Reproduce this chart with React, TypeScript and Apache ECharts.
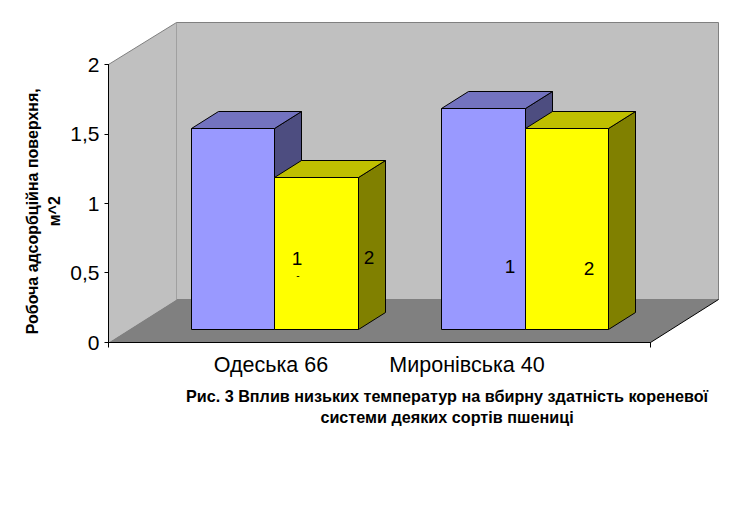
import React, { useEffect, useRef } from "react";
import * as echarts from "echarts";

const categories = ["Одеська 66", "Миронівська 40"];
const series1Values = [1.445, 1.59];
const series2Values = [1.09, 1.445];
const yTicks = { min: 0, max: 2, interval: 0.5 };
const yAxisName = "Робоча адсорбційна поверхня,\nм^2";
const caption = "Рис. 3 Вплив низьких температур на вбирну здатність кореневої\nсистеми деяких сортів пшениці";
const FONT = '"Liberation Sans", Arial, sans-serif';

// 3D projection constants
const WALL_DX = 68;
const WALL_DY = -42;
const FLOOR_DY = -43;
const BAR_DX = 27;
const BAR_DY = -17;
const BAR_LIFT = -13;
const BAR_FRACTION = 0.3333;

const crisp = (v: number) => Math.round(v - 0.5) + 0.5;

function renderFrame(params: any) {
  const c = params.coordSys;
  const l = crisp(c.x), r = crisp(c.x + c.width), t = crisp(c.y), b = crisp(c.y + c.height);
  const dx = WALL_DX, dy = WALL_DY, fy = FLOOR_DY;
  const wall = { fill: "#C0C0C0", stroke: "#808080", lineWidth: 1 };
  const poly = (points: number[][], style: any) => ({ type: "polygon", shape: { points }, style });
  const line = (x1: number, y1: number, x2: number, y2: number, stroke: string) => ({
    type: "line",
    shape: { x1, y1, x2, y2 },
    style: { stroke, lineWidth: 1 },
  });
  return {
    type: "group",
    children: [
      poly([[l + dx, t + dy], [r + dx, t + dy], [r + dx, b + fy], [l + dx, b + fy]], wall),
      poly([[l, t], [l + dx, t + dy], [l + dx, b + fy], [l, b]], { fill: "#C0C0C0", stroke: "none" }),
      line(l, t, l + dx, t + dy, "#808080"),
      poly([[l, b], [l + dx, b + fy], [r + dx, b + fy], [r, b]], { fill: "#808080", stroke: "none" }),
      line(r, b, r + dx, b + fy, "#000000"),
      line(l, b, l, b + 5, "#000000"),
      line(r, b, r, b + 5, "#000000"),
    ],
  };
}

function makeBarRenderer(side: number, front: string, top: string, flank: string) {
  return (_params: any, api: any) => {
    const idx = api.value(0);
    const tip = api.coord([idx, api.value(1)]);
    const base = api.coord([idx, 0]);
    const w = api.size([1, 0])[0] * BAR_FRACTION;
    const x0 = crisp(side === 0 ? tip[0] - w : tip[0]);
    const x1 = crisp(side === 0 ? tip[0] : tip[0] + w);
    const yTop = crisp(tip[1] + BAR_LIFT);
    const yBot = crisp(base[1] + BAR_LIFT);
    const s = { stroke: "#000000", lineWidth: 1, lineJoin: "miter" };
    return {
      type: "group",
      children: [
        {
          type: "polygon",
          shape: { points: [[x1, yTop], [x1 + BAR_DX, yTop + BAR_DY], [x1 + BAR_DX, yBot + BAR_DY], [x1, yBot]] },
          style: { fill: flank, ...s },
        },
        {
          type: "polygon",
          shape: { points: [[x0, yTop], [x0 + BAR_DX, yTop + BAR_DY], [x1 + BAR_DX, yTop + BAR_DY], [x1, yTop]] },
          style: { fill: top, ...s },
        },
        {
          type: "polygon",
          shape: { points: [[x0, yTop], [x1, yTop], [x1, yBot], [x0, yBot]] },
          style: { fill: front, ...s },
        },
      ],
    };
  };
}

const annotations = [
  { text: "1", x: 297, y: 258.5, size: 19 },
  { text: "-", x: 298, y: 275, size: 10 },
  { text: "2", x: 369, y: 257.5, size: 19 },
  { text: "1", x: 510, y: 266.5, size: 19 },
  { text: "2", x: 589, y: 268.5, size: 19 },
];

export default function App() {
  const ref = useRef<HTMLDivElement>(null);
  useEffect(() => {
    const chart = echarts.init(ref.current!, undefined, { renderer: "svg" });
    chart.setOption({
      animation: false,
      backgroundColor: "#FFFFFF",
      textStyle: { fontFamily: FONT },
      title: {
        text: caption,
        left: 442,
        top: 380,
        textAlign: "center",
        textStyle: { fontFamily: FONT, fontSize: 16.2, fontWeight: "bold", color: "#000", lineHeight: 21.5 },
      },
      grid: [
        { left: 108.5, top: 64.5, width: 542, height: 277.5, outerBoundsMode: "none" },
        { left: 149.65, top: 64.5, width: 501, height: 277.5, outerBoundsMode: "none" },
      ],
      xAxis: [
        {
          gridIndex: 0,
          type: "category",
          data: categories,
          z: 5,
          axisLine: { lineStyle: { color: "#000", width: 1 } },
          axisTick: { show: false },
          axisLabel: {
            margin: 12,
            fontFamily: FONT,
            fontSize: 21.5,
            color: "#000",
            interval: 0,
            formatter: (v: string, i: number) => (i === 0 ? `{a|${v}}` : `{b|${v}}`),
            rich: {
              a: { fontFamily: FONT, fontSize: 21.5, color: "#000", padding: [0, 0, 0, 54] },
              b: { fontFamily: FONT, fontSize: 21.5, color: "#000", padding: [0, 96, 0, 0] },
            },
          },
        },
        { gridIndex: 1, type: "category", data: categories, show: false },
      ],
      yAxis: [
        {
          gridIndex: 0,
          type: "value",
          ...yTicks,
          z: 5,
          name: yAxisName,
          nameLocation: "middle",
          nameRotate: 90,
          nameGap: 43,
          nameMoveOverlap: false,
          nameTextStyle: {
            fontFamily: FONT,
            fontSize: 16,
            fontWeight: "bold",
            color: "#000",
            lineHeight: 22,
            align: "center",
            padding: [0, 16, 0, 0],
          },
          splitLine: { show: false },
          axisLine: { show: true, lineStyle: { color: "#000", width: 1 } },
          axisTick: { show: true, length: 4, lineStyle: { color: "#000" } },
          axisLabel: {
            margin: 9,
            fontFamily: FONT,
            fontSize: 21,
            color: "#000",
            formatter: (v: number) => String(v).replace(".", ","),
          },
        },
        { gridIndex: 1, type: "value", ...yTicks, show: false },
      ],
      graphic: annotations.map((a) => ({
        type: "text",
        x: a.x,
        y: a.y,
        z: 50,
        silent: true,
        style: {
          text: a.text,
          font: `${a.size}px ${FONT}`,
          fill: "#000",
          align: "center",
          verticalAlign: "middle",
        },
      })),
      series: [
        {
          type: "custom",
          xAxisIndex: 0,
          yAxisIndex: 0,
          z: 1,
          silent: true,
          clip: false,
          data: [[0, 0]],
          renderItem: renderFrame,
        },
        {
          type: "custom",
          name: "1",
          xAxisIndex: 1,
          yAxisIndex: 1,
          z: 2,
          silent: true,
          clip: false,
          encode: { x: 0, y: 1 },
          data: series1Values.map((v, i) => [i, v]),
          renderItem: makeBarRenderer(0, "#9999FF", "#7373BF", "#4D4D80"),
        },
        {
          type: "custom",
          name: "2",
          xAxisIndex: 1,
          yAxisIndex: 1,
          z: 3,
          silent: true,
          clip: false,
          encode: { x: 0, y: 1 },
          data: series2Values.map((v, i) => [i, v]),
          renderItem: makeBarRenderer(1, "#FFFF00", "#BFBF00", "#808000"),
        },
      ],
    });
    return () => chart.dispose();
  }, []);
  return <div ref={ref} style={{ position: "absolute", left: 0, top: 0, width: 747, height: 509 }} />;
}
